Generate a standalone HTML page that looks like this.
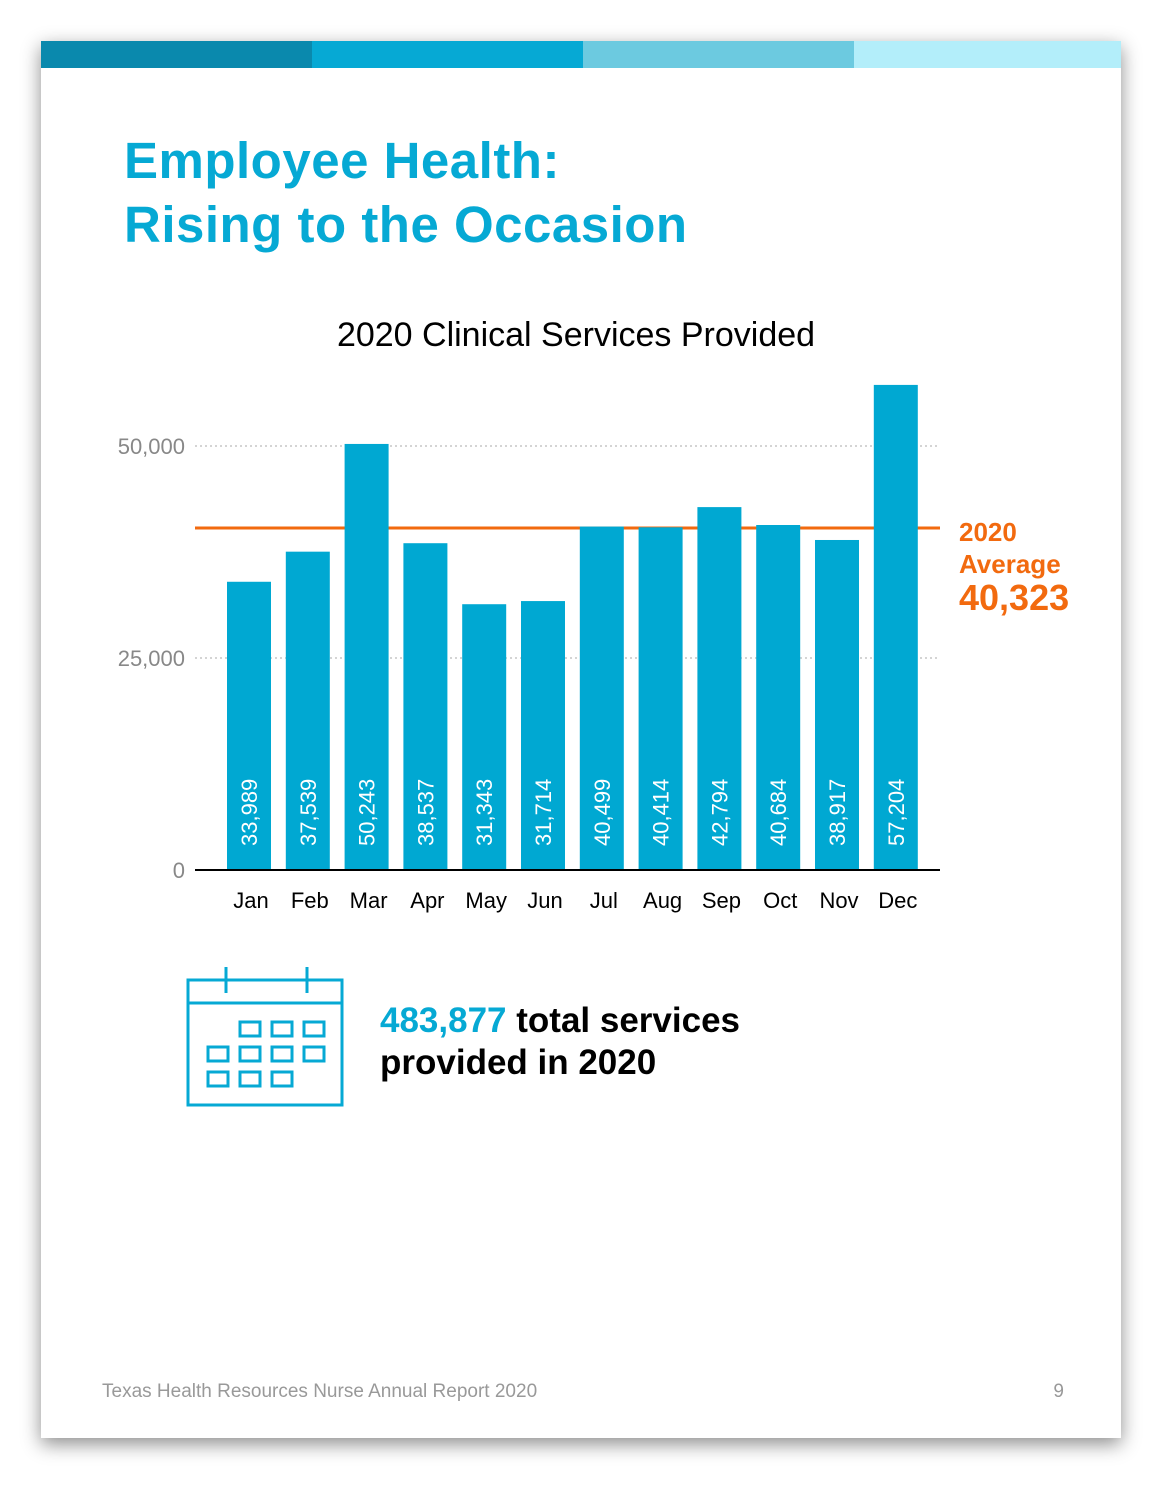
<!DOCTYPE html>
<html><head><meta charset="utf-8"><style>
body{margin:0;width:1173px;height:1492px;background:#fff;position:relative;overflow:hidden;font-family:"Liberation Sans",sans-serif}
#page{position:absolute;left:41px;top:41px;width:1080px;height:1397px;background:#fff;box-shadow:0 6px 18px rgba(0,0,0,0.45)}
.seg{position:absolute;top:0;height:27px;width:271px}
h1{position:absolute;left:83px;top:88px;margin:0;font-size:51px;line-height:64px;color:#06a9d4;font-weight:bold;letter-spacing:0.5px}
</style></head><body>
<div id="page">
<div class="seg" style="left:0;background:#0a89ad"></div>
<div class="seg" style="left:271px;background:#06a9d4"></div>
<div class="seg" style="left:542px;background:#6ccae0"></div>
<div class="seg" style="left:813px;width:267px;background:#b3eefa"></div>
<h1>Employee Health:<br>Rising to the Occasion</h1>
</div>
<svg id="chart" width="1173" height="1492" style="position:absolute;left:0;top:0" font-family="Liberation Sans, sans-serif">
<text x="576" y="346" text-anchor="middle" font-size="34" fill="#000">2020 Clinical Services Provided</text>
<g id="grid"></g><g id="avg"></g><g id="bars"></g>
<g fill="none" stroke="#06a9d4" stroke-width="3">
<rect x="188" y="980" width="154" height="125"/><line x1="188" y1="1003" x2="342" y2="1003"/>
<line x1="226" y1="967" x2="226" y2="993"/><line x1="307" y1="967" x2="307" y2="993"/>
<rect x="240" y="1022" width="20" height="14"/><rect x="272" y="1022" width="20" height="14"/><rect x="304" y="1022" width="20" height="14"/>
<rect x="208" y="1047" width="20" height="14"/><rect x="240" y="1047" width="20" height="14"/><rect x="272" y="1047" width="20" height="14"/><rect x="304" y="1047" width="20" height="14"/>
<rect x="208" y="1072" width="20" height="14"/><rect x="240" y="1072" width="20" height="14"/><rect x="272" y="1072" width="20" height="14"/>
</g>
<text x="380" y="1032" font-size="35" font-weight="bold" fill="#000"><tspan fill="#06a9d4">483,877</tspan> total services</text>
<text x="380" y="1074" font-size="35" font-weight="bold" fill="#000">provided in 2020</text>
<text x="102" y="1397" font-size="19" fill="#999">Texas Health Resources Nurse Annual Report 2020</text>
<text x="1064" y="1397" font-size="19" fill="#999" text-anchor="end">9</text>
</svg>
<script>
const months=["Jan","Feb","Mar","Apr","May","Jun","Jul","Aug","Sep","Oct","Nov","Dec"];
const values=[33989,37539,50243,38537,31343,31714,40499,40414,42794,40684,38917,57204];
const ticks=[0,25000,50000];
const average=40323;
const NS="http://www.w3.org/2000/svg";
const y=v=>870-v*424/50000;
const x=i=>227+i*58.8;
function mk(t,a,p){const e=document.createElementNS(NS,t);for(const k in a)e.setAttribute(k,a[k]);p.appendChild(e);return e;}
const grid=document.getElementById('grid'),bars=document.getElementById('bars'),avg=document.getElementById('avg');
ticks.forEach(t=>{
 if(t>0){const l=mk('line',{x1:195,x2:940,y1:y(t),y2:y(t),stroke:'#aaa','stroke-dasharray':'2,3'},grid);
 
 }
 const tx=mk('text',{x:185,y:y(t)+8,'text-anchor':'end','font-size':22,fill:'#888'},grid);tx.textContent=t.toLocaleString('en-US');
 
 
});
values.forEach((v,i)=>{
 const r=mk('rect',{x:x(i),y:y(v),width:44,height:870-y(v),fill:'#00a8d2'},bars);
 
 
 const cx=x(i)+22;
 const lt=mk('text',{x:cx+8,y:846,'font-size':22,fill:'#fff',transform:`rotate(-90 ${cx+8} 846)`},bars);lt.textContent=v.toLocaleString('en-US');
 
 
 const m=mk('text',{x:cx+2,y:908,'text-anchor':'middle','font-size':22,fill:'#000'},bars);m.textContent=months[i];
 
 
});
const base=mk('line',{x1:195,x2:940,y1:870,y2:870,stroke:'#000','stroke-width':2},bars);


const al=mk('line',{x1:195,x2:940,y1:y(average),y2:y(average),stroke:'#f26a0f','stroke-width':3},avg);


const ay=y(average);
[["2020",ay+13,26],["Average",ay+45,26],[average.toLocaleString('en-US'),ay+82,36]].forEach(([s,yy,fs])=>{
 const t=mk('text',{x:959,y:yy,'font-size':fs,'font-weight':'bold',fill:'#f26a0f'},avg);t.textContent=s;
 
 
});
</script>
</body></html>
